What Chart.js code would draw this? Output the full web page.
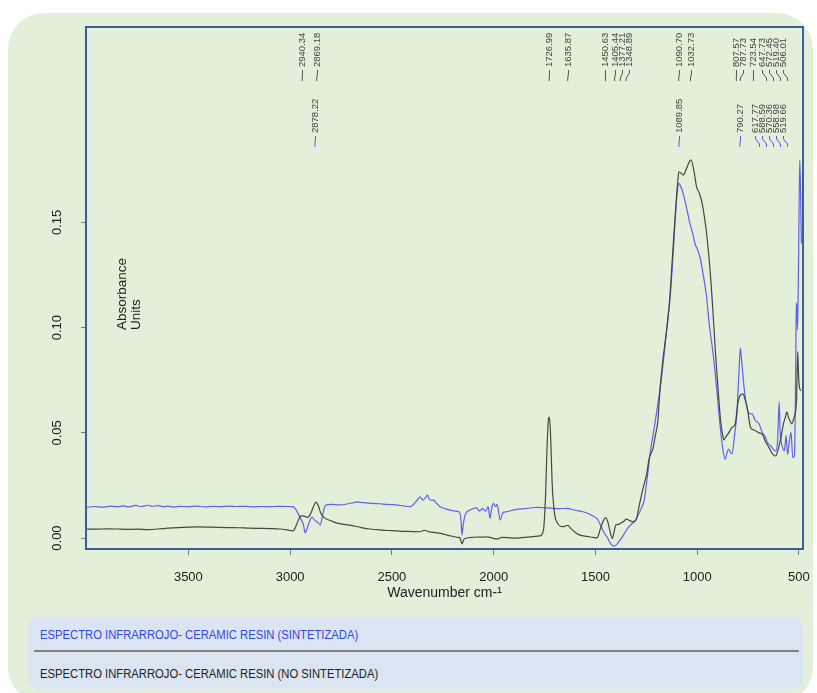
<!DOCTYPE html>
<html>
<head>
<meta charset="utf-8">
<script src="https://cdn.jsdelivr.net/npm/chart.js@4.4.1/dist/chart.umd.min.js"></script>
<style>
  html, body { margin: 0; padding: 0; background: #fff; }
  body { width: 817px; height: 693px; position: relative; overflow: hidden; }
  #panel { position: absolute; left: 8px; top: 13px; width: 805px; height: 690px; background: #e2efd9; border-radius: 36px; }
  #chart { position: absolute; left: 0; top: 0; }
  #legend { position: absolute; left: 28px; top: 617px; width: 775px; height: 72px; background: #dbe5f1; border-radius: 10px;
            font-family: 'Liberation Sans', Arial, sans-serif; font-size: 12.5px; }
  .row { position: absolute; left: 12px; line-height: 16px; white-space: nowrap; transform: scaleX(0.9); transform-origin: 0 50%; }
  #row1 { top: 10px; color: #3346e6; }
  #row2 { top: 49px; color: #222; }
  #sep { position: absolute; left: 6px; right: 4px; top: 33px; height: 2px; background: #808080; }
</style>
</head>
<body>
<div id="panel"></div>
<canvas id="chart" width="817" height="693"></canvas>
<div id="legend">
  <div class="row" id="row1">ESPECTRO INFRARROJO- CERAMIC RESIN (SINTETIZADA)</div>
  <div id="sep"></div>
  <div class="row" id="row2">ESPECTRO INFRARROJO- CERAMIC RESIN (NO SINTETIZADA)</div>
</div>
<script>
const xTicks = [3500, 3000, 2500, 2000, 1500, 1000, 500];
const yTicks = [0, 0.05, 0.10, 0.15];

// sintetizada (blue)
const wnSint = [4000, 3960, 3920, 3880, 3850, 3820, 3790, 3760, 3730, 3700, 3680, 3650, 3620, 3600, 3570, 3540,
  3500, 3460, 3420, 3380, 3340, 3300, 3260, 3220, 3180, 3140, 3100, 3060, 3020, 2990, 2975, 2960, 2945, 2935,
  2926, 2915, 2900, 2893, 2880, 2865, 2852, 2840, 2827, 2800, 2760, 2720, 2690, 2672, 2640, 2600, 2560, 2525,
  2480, 2440, 2410, 2380, 2361, 2350, 2335, 2325, 2315, 2296, 2280, 2263, 2240, 2214, 2190, 2170, 2160, 2156,
  2150, 2140, 2116, 2100, 2085, 2070, 2055, 2040, 2027, 2018, 2008, 2001, 1990, 1983, 1968, 1955, 1935, 1910,
  1886, 1850, 1820, 1788, 1750, 1720, 1680, 1640, 1600, 1560, 1520, 1508, 1490, 1475, 1460, 1440, 1425, 1409,
  1395, 1375, 1355, 1342, 1320, 1309, 1290, 1275, 1260, 1245, 1235, 1227, 1210, 1193, 1183, 1165, 1150, 1134,
  1120, 1109, 1100, 1090, 1080, 1069, 1050, 1036, 1020, 1011, 1000, 987, 970, 954, 940, 922, 905, 890, 875,
  863, 855, 846, 838, 829, 815, 805, 795, 788, 783, 770, 755, 740, 730, 715, 696, 680, 665, 655, 638, 625,
  614, 605, 597, 593, 588, 580, 572, 567, 563, 556, 548, 539, 530, 522, 516, 513, 510, 507, 502, 496, 492, 488];
const absSint = [0.0146, 0.0150, 0.0147, 0.0152, 0.0149, 0.0153, 0.0148, 0.0155, 0.0150, 0.0156, 0.0151, 0.0154,
  0.0149, 0.0152, 0.0147, 0.0151, 0.0149, 0.0152, 0.0148, 0.0151, 0.0149, 0.0152, 0.0150, 0.0151, 0.0148, 0.0150,
  0.0149, 0.0151, 0.0150, 0.0149, 0.0140, 0.0115, 0.0085, 0.0065, 0.0025, 0.0050, 0.0090, 0.0100, 0.0085, 0.0075,
  0.0062, 0.0110, 0.0155, 0.0160, 0.0158, 0.0162, 0.0168, 0.0172, 0.0168, 0.0165, 0.0163, 0.0160, 0.0158, 0.0152,
  0.0149, 0.0175, 0.0196, 0.0180, 0.0192, 0.0204, 0.0182, 0.0180, 0.0165, 0.0149, 0.0140, 0.0133, 0.0128, 0.0125,
  0.0080, 0.0014, 0.0060, 0.0110, 0.0133, 0.0140, 0.0145, 0.0128, 0.0140, 0.0128, 0.0149, 0.0094, 0.0150, 0.0165,
  0.0150, 0.0160, 0.0086, 0.0120, 0.0125, 0.0132, 0.0136, 0.0140, 0.0143, 0.0146, 0.0144, 0.0142, 0.0140, 0.0141,
  0.0132, 0.0125, 0.0110, 0.0102, 0.0090, 0.0062, 0.0030, 0.0000, -0.0028, -0.0038, -0.0030, -0.0005, 0.0025,
  0.0046, 0.0068, 0.0077, 0.0110, 0.0140, 0.0182, 0.0290, 0.0370, 0.0430, 0.0530, 0.0639, 0.0703, 0.0850, 0.0990,
  0.1130, 0.1320, 0.1497, 0.1620, 0.1686, 0.1670, 0.1638, 0.1560, 0.1497, 0.1440, 0.1400, 0.1375, 0.1337, 0.1250,
  0.1147, 0.1010, 0.0878, 0.0720, 0.0560, 0.0430, 0.0374, 0.0400, 0.0423, 0.0410, 0.0400, 0.0500, 0.0590, 0.0780,
  0.0903, 0.0860, 0.0720, 0.0620, 0.0590, 0.0590, 0.0560, 0.0543, 0.0502, 0.0480, 0.0454, 0.0438, 0.0420, 0.0414,
  0.0460, 0.0647, 0.0520, 0.0462, 0.0430, 0.0414, 0.0450, 0.0487, 0.0398, 0.0450, 0.0502, 0.0382, 0.0390, 0.0800,
  0.1117, 0.1100, 0.0990, 0.1300, 0.1797, 0.1650, 0.1400];

// no sintetizada (black)
const wnNoSint = [4000, 3950, 3900, 3850, 3800, 3750, 3700, 3650, 3600, 3550, 3500, 3450, 3400, 3350, 3300, 3250,
  3200, 3150, 3100, 3050, 3000, 2985, 2970, 2955, 2945, 2930, 2915, 2900, 2885, 2872, 2860, 2850, 2837, 2800,
  2769, 2700, 2650, 2607, 2550, 2500, 2450, 2400, 2361, 2340, 2320, 2280, 2250, 2229, 2200, 2175, 2165, 2156,
  2145, 2120, 2080, 2050, 2032, 2010, 1983, 1960, 1930, 1900, 1870, 1820, 1772, 1755, 1745, 1738, 1730, 1726,
  1720, 1712, 1700, 1690, 1675, 1659, 1645, 1635, 1620, 1600, 1576, 1540, 1510, 1492, 1475, 1460, 1450, 1440,
  1430, 1417, 1408, 1400, 1385, 1377, 1360, 1349, 1330, 1317, 1300, 1284, 1265, 1250, 1235, 1218, 1205, 1193,
  1183, 1168, 1150, 1134, 1120, 1105, 1095, 1090, 1080, 1069, 1055, 1040, 1030, 1015, 1003, 990, 979, 965, 954,
  938, 922, 910, 897, 885, 875, 868, 860, 845, 830, 813, 800, 788, 775, 765, 755, 738, 725, 713, 695, 680, 665,
  647, 630, 614, 600, 588, 576, 565, 560, 550, 540, 535, 525, 519, 512, 506, 502, 498, 490];
const absNoSint = [0.0043, 0.0042, 0.0044, 0.0043, 0.0041, 0.0042, 0.0040, 0.0043, 0.0047, 0.0050, 0.0052, 0.0053,
  0.0052, 0.0051, 0.0050, 0.0049, 0.0047, 0.0046, 0.0045, 0.0043, 0.0036, 0.0034, 0.0060, 0.0095, 0.0105, 0.0104,
  0.0098, 0.0115, 0.0150, 0.0171, 0.0150, 0.0120, 0.0101, 0.0082, 0.0071, 0.0060, 0.0050, 0.0043, 0.0038, 0.0035,
  0.0032, 0.0031, 0.0030, 0.0037, 0.0030, 0.0025, 0.0020, 0.0014, 0.0008, 0.0003, 0.0000, -0.0028, -0.0005, 0.0002,
  0.0005, 0.0004, 0.0006, 0.0001, -0.0005, 0.0003, 0.0002, 0.0000, 0.0001, 0.0006, 0.0010, 0.0040, 0.0200, 0.0420,
  0.0570, 0.0575, 0.0480, 0.0250, 0.0110, 0.0077, 0.0058, 0.0054, 0.0058, 0.0060, 0.0045, 0.0028, 0.0014, 0.0008,
  0.0003, 0.0001, 0.0046, 0.0085, 0.0097, 0.0080, 0.0040, -0.0002, 0.0030, 0.0062, 0.0065, 0.0070, 0.0080, 0.0090,
  0.0082, 0.0078, 0.0086, 0.0158, 0.0240, 0.0295, 0.0382, 0.0423, 0.0490, 0.0558, 0.0703, 0.0850, 0.0990, 0.1147,
  0.1360, 0.1575, 0.1700, 0.1741, 0.1735, 0.1725, 0.1750, 0.1785, 0.1797, 0.1740, 0.1670, 0.1640, 0.1606, 0.1530,
  0.1450, 0.1290, 0.1070, 0.0880, 0.0703, 0.0560, 0.0490, 0.0466, 0.0480, 0.0500, 0.0525, 0.0543, 0.0640, 0.0679,
  0.0685, 0.0660, 0.0623, 0.0527, 0.0515, 0.0510, 0.0500, 0.0494, 0.0460, 0.0430, 0.0400, 0.0390, 0.0430, 0.0479,
  0.0543, 0.0580, 0.0600, 0.0570, 0.0550, 0.0543, 0.0570, 0.0590, 0.0650, 0.0886, 0.0780, 0.0720, 0.0700];

const peaksNoSint = [2940.34, 2869.18, 1726.99, 1635.87, 1450.63, 1405.44, 1377.21, 1348.89, 1090.70, 1032.73,
  807.57, 787.73, 723.54, 647.73, 572.45, 519.40, 506.01];
const peaksSint = [2878.22, 1089.85, 790.27, 617.77, 588.59, 570.36, 558.98, 519.66];

const BLUE = 'rgba(72, 72, 240, 0.85)';
const DARK = 'rgba(58, 64, 58, 0.95)';

Chart.defaults.font.family = "'Liberation Sans', Arial, sans-serif";

// spread peak labels so they don't overlap
function layoutLabels(scale, peaks, maxX) {
  const gap = 7;
  const pos = peaks.map(p => scale.getPixelForValue(p));
  for (let i = 1; i < pos.length; i++) pos[i] = Math.max(pos[i], pos[i - 1] + gap);
  let lim = maxX;
  for (let i = pos.length - 1; i >= 0; i--) {
    pos[i] = Math.min(pos[i], lim);
    lim = pos[i] - gap;
  }
  return pos;
}

function drawPeaks(chart, peaks, textStart, tickColor) {
  const ctx = chart.ctx;
  const xs = chart.scales.x;
  const area = chart.chartArea;
  const labelX = layoutLabels(xs, peaks, area.right - 20);
  const tickTop = textStart + 3, tickBot = textStart + 14;
  peaks.forEach((p, i) => {
    const lx = Math.round(labelX[i]) + 0.5;
    const px = xs.getPixelForValue(p);
    const dx = Math.max(-4, Math.min(4, px - lx));
    ctx.save();
    ctx.strokeStyle = tickColor;
    ctx.lineWidth = 1;
    ctx.beginPath();
    ctx.moveTo(lx, tickTop);
    ctx.lineTo(lx, tickTop + 3);
    ctx.lineTo(lx + dx, tickBot - 3);
    ctx.lineTo(lx + dx, tickBot);
    ctx.stroke();
    ctx.translate(lx, textStart);
    ctx.rotate(-Math.PI / 2);
    ctx.fillStyle = '#444';
    ctx.font = "9.5px 'Liberation Sans', Arial, sans-serif";
    ctx.textAlign = 'left';
    ctx.textBaseline = 'middle';
    ctx.fillText(p.toFixed(2), 0, 0);
    ctx.restore();
  });
}

const extras = {
  id: 'extras',
  afterDraw(chart) {
    const ctx = chart.ctx;
    const a = chart.chartArea;
    // frame
    ctx.save();
    ctx.strokeStyle = '#3e5c9c';
    ctx.lineWidth = 2;
    ctx.strokeRect(a.left, a.top, a.right - a.left, a.bottom - a.top);
    ctx.restore();

    drawPeaks(chart, peaksNoSint, a.top + 40, '#555');
    drawPeaks(chart, peaksSint, a.top + 106, '#5a5af0');

    // axis titles
    ctx.save();
    ctx.fillStyle = '#222';
    ctx.font = "14px 'Liberation Sans', Arial, sans-serif";
    ctx.textAlign = 'center';
    ctx.textBaseline = 'middle';
    ctx.fillText('Wavenumber cm-\u00B9', (a.left + a.right) / 2, 593);

    ctx.font = "13.5px 'Liberation Sans', Arial, sans-serif";
    ctx.textAlign = 'left';
    ctx.translate(a.left + 36, 330);
    ctx.rotate(-Math.PI / 2);
    ctx.fillText('Absorbance', 0, 0);
    ctx.fillText('Units', 0, 14);
    ctx.restore();
  }
};

new Chart(document.getElementById('chart'), {
  type: 'line',
  data: {
    datasets: [
      {
        label: 'NO SINTETIZADA',
        data: wnNoSint.map((x, i) => ({ x: x, y: absNoSint[i] })),
        borderColor: DARK,
        borderWidth: 1.2,
        pointRadius: 0,
        cubicInterpolationMode: 'monotone'
      },
      {
        label: 'SINTETIZADA',
        data: wnSint.map((x, i) => ({ x: x, y: absSint[i] })),
        borderColor: BLUE,
        borderWidth: 1.2,
        pointRadius: 0,
        cubicInterpolationMode: 'monotone'
      }
    ]
  },
  options: {
    responsive: false,
    animation: false,
    devicePixelRatio: 1,
    layout: { padding: { left: 0, top: 27, right: 14, bottom: 84 } },
    plugins: { legend: { display: false }, tooltip: { enabled: false } },
    scales: {
      x: {
        type: 'linear',
        reverse: true,
        min: 480,
        max: 4003,
        afterBuildTicks: s => { s.ticks = xTicks.map(v => ({ value: v })); },
        afterFit: s => { s.height = 60; s.paddingLeft = 0; s.paddingRight = 0; },
        grid: { drawOnChartArea: false, tickLength: 6, tickColor: '#777' },
        border: { display: false },
        ticks: { padding: 15, color: '#222', font: { size: 13 }, maxRotation: 0, autoSkip: false,
                 callback: v => String(v) }
      },
      y: {
        min: -0.0052,
        max: 0.2429,
        afterBuildTicks: s => { s.ticks = yTicks.map(v => ({ value: v })); },
        afterFit: s => { s.width = 86; s.paddingTop = 0; s.paddingBottom = 0; },
        grid: { drawOnChartArea: false, tickLength: 5, tickColor: '#777' },
        border: { display: false },
        ticks: { minRotation: 90, maxRotation: 90, crossAlign: 'center', padding: 11, color: '#222',
                 font: { size: 13 }, callback: v => v.toFixed(2) }
      }
    }
  },
  plugins: [extras]
});
</script>
</body>
</html>
